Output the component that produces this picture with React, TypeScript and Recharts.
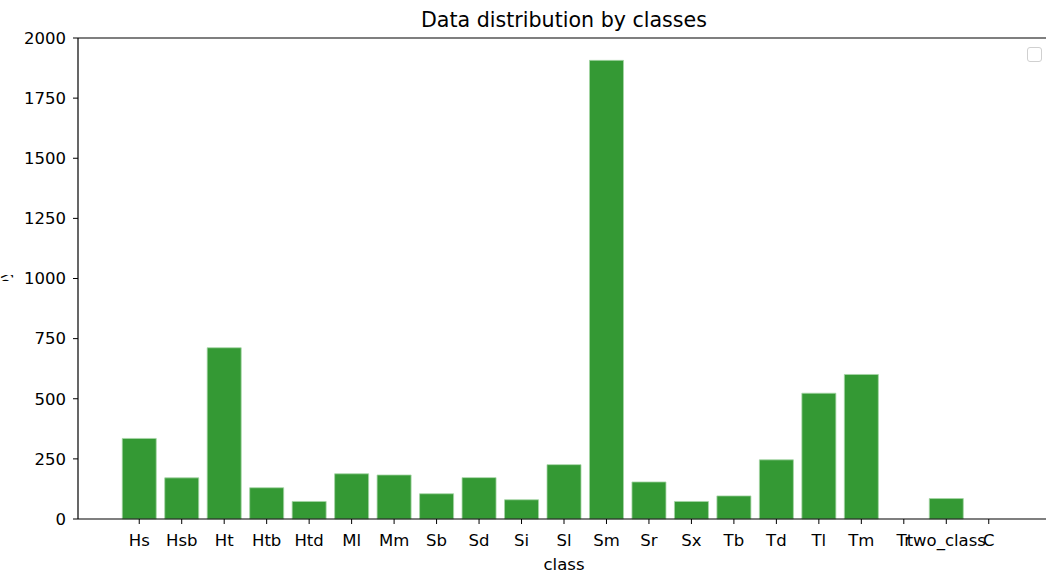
import { BarChart, Bar, XAxis, YAxis, ReferenceLine, Label } from 'recharts';

const classes = ['Hs', 'Hsb', 'Ht', 'Htb', 'Htd', 'Ml', 'Mm', 'Sb', 'Sd', 'Si', 'Sl', 'Sm', 'Sr', 'Sx', 'Tb', 'Td', 'Tl', 'Tm', 'Tr', 'two_class', 'C'];
const counts = [335, 171, 712, 130, 73, 188, 183, 105, 172, 80, 226, 1907, 154, 73, 96, 246, 523, 601, 0, 85, 0];
const yTicks = [0, 250, 500, 750, 1000, 1250, 1500, 1750, 2000];

const data = classes.map((c, i) => ({ class: c, count: counts[i] }));

const font = '"DejaVu Sans", sans-serif';
const tickStyle = { fontSize: 16.5, fill: '#000', fontFamily: font };

export default function App() {
    return (
        <div style={{ position: 'fixed', left: 0, top: 0, width: 1046, height: 574, overflow: 'hidden', background: '#fff', fontFamily: font }}>
            <div style={{ position: 'absolute', left: 314, top: 8, width: 500, textAlign: 'center', fontSize: 20.6, color: '#000', whiteSpace: 'nowrap' }}>
                Data distribution by classes
            </div>
            {/* y label is cropped in the original, only a sliver shows */}
            <svg width={20} height={574} style={{ position: 'absolute', left: 0, top: 0 }}>
                <defs>
                    <clipPath id="ylab">
                        <rect x={8} y={0} width={6} height={574} />
                    </clipPath>
                </defs>
                <text x={10} y={279} transform="rotate(-90 10 279)" textAnchor="middle" fontSize={16.5} fontFamily={font} clipPath="url(#ylab)">
                    py
                </text>
            </svg>
            <div style={{ position: 'absolute', left: 1027, top: 47, width: 13, height: 13, border: '1px solid #d0d0d0', borderRadius: 3 }} />
            <BarChart width={1060} height={574} data={data} margin={{ top: 38, right: 10, left: 0, bottom: 0 }} barCategoryGap="10%">
                <XAxis
                    dataKey="class"
                    interval={0}
                    height={55}
                    padding={{ left: 40, right: 40 }}
                    tick={tickStyle}
                    tickSize={5}
                    tickMargin={10}
                    axisLine={{ stroke: '#000', strokeWidth: 1.2 }}
                    tickLine={{ stroke: '#000' }}
                >
                    <Label value="class" position="insideBottom" offset={4} style={{ fontSize: 16.5, fill: '#000', fontFamily: font }} />
                </XAxis>
                <YAxis
                    width={78}
                    domain={[0, 2000]}
                    ticks={yTicks}
                    tick={tickStyle}
                    tickSize={5}
                    tickMargin={7}
                    axisLine={{ stroke: '#000', strokeWidth: 1.2 }}
                    tickLine={{ stroke: '#000' }}
                />
                <ReferenceLine y={2000} stroke="#000" strokeWidth={1.2} />
                <Bar dataKey="count" fill="#349934" stroke="#a6d6a6" strokeWidth={0.8} isAnimationActive={false} />
            </BarChart>
        </div>
    );
}
